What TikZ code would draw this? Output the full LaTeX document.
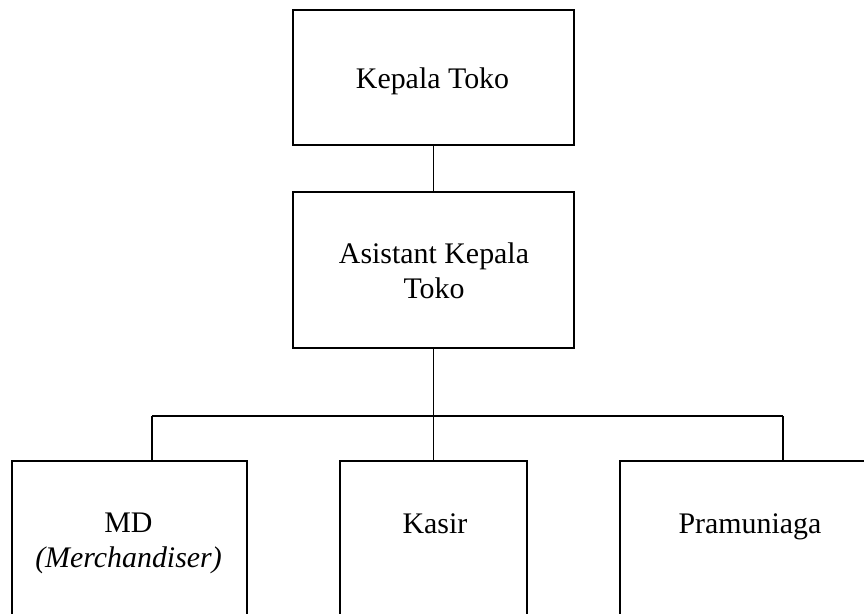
\documentclass[tikz,border=0pt]{standalone}
\usepackage{fontspec}
\setmainfont{Liberation Serif}
\begin{document}
\begin{tikzpicture}[x=1bp,y=-1bp,
  box/.style={draw=black,line width=1.9bp,inner sep=0pt,anchor=north west},
  lbl/.style={inner sep=0pt,anchor=base,font=\fontsize{30}{35}\selectfont},
  conn/.style={draw=black,line width=1.9bp}]
\useasboundingbox (0,0) rectangle (864,614);
\clip (0,0) rectangle (864,614);
\fill[white] (0,0) rectangle (864,614);
% boxes
\node[box,minimum width=281bp,minimum height=135bp] (kt) at (292,9) {};
\node[box,minimum width=281bp,minimum height=156bp] (akt) at (292,191) {};
\node[box,minimum width=235bp,minimum height=180bp] (md) at (11,460) {};
\node[box,minimum width=187bp,minimum height=180bp] (ks) at (339,460) {};
\node[box,minimum width=262bp,minimum height=180bp] (pr) at (619,460) {};
% labels
\node[lbl] (tkt) at (432.5,89) {Kepala Toko};
\node[lbl] (takt1) at (434,263) {Asistant Kepala};
\node[lbl] (takt2) at (434,298) {Toko};
\node[lbl] (tmd1) at (128.5,532) {MD};
\node[lbl] (tmd2) at (128.5,567) {\textit{(Merchandiser)}};
\node[lbl] (tks) at (435,533) {Kasir};
\node[lbl] (tpr) at (750,533) {Pramuniaga};
% connectors
\coordinate (bus) at (akt.south |- 0,416);
\coordinate (bl) at (152,416);
\coordinate (br) at (783,416);
\draw[conn] (kt.south) -- (akt.north);
\draw[conn] (akt.south) -- (bus);
\draw[conn] (bl) -- (br);
\draw[conn] (bl) -- (bl |- md.north);
\draw[conn] (bus) -- (bus |- ks.north);
\draw[conn] (br) -- (br |- pr.north);
\end{tikzpicture}
\end{document}
